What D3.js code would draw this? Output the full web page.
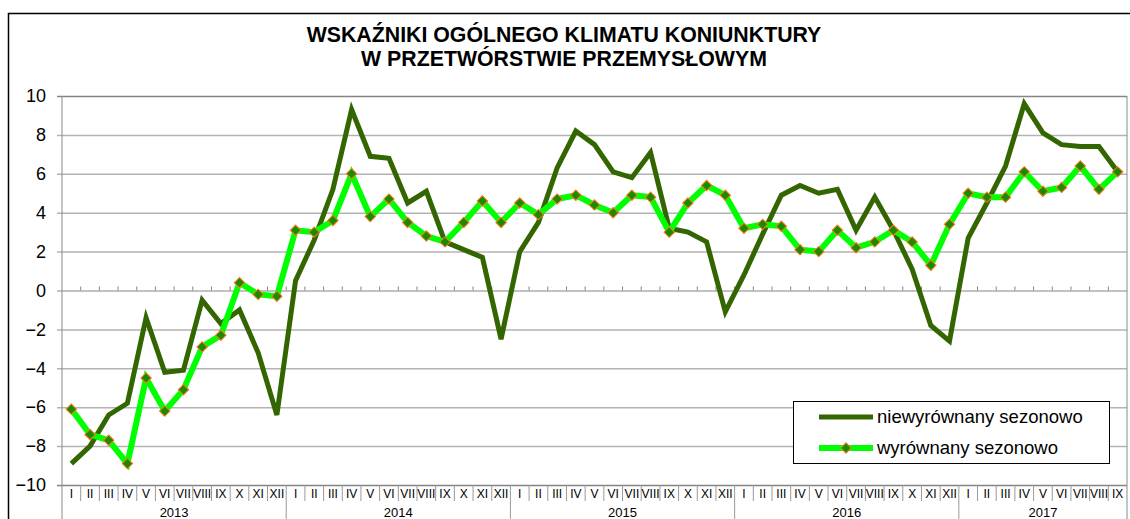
<!DOCTYPE html>
<html>
<head>
<meta charset="utf-8">
<script src="https://cdn.jsdelivr.net/npm/d3@7"></script>
<style>
  body { margin: 0; background: #fff; }
  text { font-family: "Liberation Sans", Arial, sans-serif; }
</style>
</head>
<body>
<div id="chart"></div>
<script>
// Chart data
var months = ["I", "II", "III", "IV", "V", "VI", "VII", "VIII", "IX", "X", "XI", "XII"];
var years = ["2013", "2014", "2015", "2016", "2017"];
var yTicks = [-10, -8, -6, -4, -2, 0, 2, 4, 6, 8, 10];
var seriesNames = ["niewyrównany sezonowo", "wyrównany sezonowo"];

// niewyrównany sezonowo (2013 I - 2017 IX)
var unadjusted = [
    -8.9, -8.0, -6.4, -5.8, -1.4, -4.2, -4.1, -0.5, -1.7, -1.0, -3.2, -6.4,
    0.5, 2.6, 5.2, 9.3, 6.9, 6.8, 4.5, 5.1, 2.5, 2.1, 1.7, -2.5,
    2.0, 3.5, 6.3, 8.2, 7.5, 6.1, 5.8, 7.1, 3.2, 3.0, 2.5, -1.1,
    0.8, 2.9, 4.9, 5.4, 5.0, 5.2, 3.1, 4.8, 3.1, 1.1, -1.8, -2.6,
    2.7, 4.5, 6.4, 9.6, 8.1, 7.5, 7.4, 7.4, 6.1
];

// wyrównany sezonowo
var adjusted = [
    -6.1, -7.4, -7.7, -8.9, -4.5, -6.2, -5.1, -2.9, -2.3, 0.4, -0.2, -0.3,
    3.1, 3.0, 3.6, 6.0, 3.8, 4.7, 3.5, 2.8, 2.5, 3.5, 4.6, 3.5,
    4.5, 3.9, 4.7, 4.9, 4.4, 4.0, 4.9, 4.8, 3.0, 4.5, 5.4, 4.9,
    3.2, 3.4, 3.3, 2.1, 2.0, 3.1, 2.2, 2.5, 3.1, 2.5, 1.3, 3.4,
    5.0, 4.8, 4.8, 6.1, 5.1, 5.3, 6.4, 5.2, 6.1
];

var svgWidth = 1130;
var svgHeight = 519;

var plot = { left: 62, right: 1127, top: 96, bottom: 485 };

var svg = d3.select("#chart")
    .append("svg")
    .attr("width", svgWidth)
    .attr("height", svgHeight);

// outer frame
svg.append("rect")
    .attr("x", 8.5).attr("y", 13.5)
    .attr("width", 1200).attr("height", 600)
    .attr("fill", "#fff")
    .attr("stroke", "#000")
    .attr("stroke-width", 1.5);

// title
var title = svg.append("text")
    .attr("text-anchor", "middle")
    .attr("font-size", "21.3px")
    .attr("font-weight", "bold")
    .attr("fill", "#000");
title.append("tspan").attr("x", 564).attr("y", 42).text("WSKAŹNIKI OGÓLNEGO KLIMATU KONIUNKTURY");
title.append("tspan").attr("x", 564).attr("y", 66).text("W PRZETWÓRSTWIE PRZEMYSŁOWYM");

// scales
var xScale = d3.scaleBand()
    .domain(d3.range(unadjusted.length))
    .range([plot.left, plot.right]);

var yScale = d3.scaleLinear()
    .domain([-10, 10])
    .range([plot.bottom, plot.top]);

var xMid = i => xScale(i) + xScale.bandwidth() / 2;

// y axis + gridlines
var yAxis = svg.append("g")
    .attr("transform", `translate(${plot.left}, 0)`)
    .call(d3.axisLeft(yScale)
        .tickValues(yTicks)
        .tickSize(-(plot.right - plot.left))
        .tickSizeOuter(0)
        .tickPadding(16)
        .tickFormat(d3.format("d")));

yAxis.select(".domain").remove();
yAxis.selectAll("line")
    .attr("x1", -5)
    .attr("stroke", d => (d === 10 || d === -10 || d === 0) ? "#858585" : "#b3b3b3")
    .attr("stroke-width", d => (d === 0) ? 1.2 : 1.5);
yAxis.selectAll("text")
    .attr("font-size", "18px")
    .attr("fill", "#000")
    .attr("font-family", "Liberation Sans, Arial, sans-serif");

// small ticks on the zero line
svg.append("g")
    .selectAll("line")
    .data(d3.range(1, unadjusted.length))
    .enter()
    .append("line")
    .attr("x1", d => xScale(d)).attr("x2", d => xScale(d))
    .attr("y1", yScale(0) - 4).attr("y2", yScale(0))
    .attr("stroke", "#858585");

// category label rows
var sepGroup = svg.append("g").attr("stroke", "#9a9a9a").attr("stroke-width", 1);
sepGroup.selectAll("line.month")
    .data(d3.range(1, unadjusted.length).filter(d => d % 12 !== 0))
    .enter()
    .append("line")
    .attr("x1", d => xScale(d)).attr("x2", d => xScale(d))
    .attr("y1", plot.bottom).attr("y2", 501);

sepGroup.selectAll("line.year")
    .data(d3.range(12, unadjusted.length, 12))
    .enter()
    .append("line")
    .attr("x1", d => xScale(d)).attr("x2", d => xScale(d))
    .attr("y1", plot.bottom).attr("y2", svgHeight);

// plot side borders
sepGroup.selectAll("line.side")
    .data([plot.left, plot.right])
    .enter()
    .append("line")
    .attr("x1", d => d).attr("x2", d => d)
    .attr("y1", plot.top).attr("y2", svgHeight)
    .attr("stroke", "#8a8a8a");

var xAxis = svg.append("g")
    .attr("transform", `translate(0, ${plot.bottom})`)
    .call(d3.axisBottom(xScale)
        .tickSize(0)
        .tickPadding(4)
        .tickFormat(i => months[i % 12]));
xAxis.select(".domain").remove();
xAxis.selectAll("text")
    .attr("font-size", "12px")
    .attr("fill", "#000")
    .attr("font-family", "Liberation Sans, Arial, sans-serif");

svg.append("g")
    .selectAll("text")
    .data(years)
    .enter()
    .append("text")
    .attr("x", (d, i) => {
        var first = i * 12;
        var last = Math.min(first + 11, unadjusted.length - 1);
        return (xScale(first) + xScale(last) + xScale.bandwidth()) / 2;
    })
    .attr("y", 517)
    .attr("text-anchor", "middle")
    .attr("font-size", "13px")
    .text(d => d);

// lines
var line = d3.line()
    .x((d, i) => xMid(i))
    .y(d => yScale(d));

svg.append("path")
    .datum(unadjusted)
    .attr("fill", "none")
    .attr("stroke", "#336600")
    .attr("stroke-width", 5)
    .attr("d", line);

svg.append("path")
    .datum(adjusted)
    .attr("fill", "none")
    .attr("stroke", "#00ff00")
    .attr("stroke-width", 6)
    .attr("d", line);

var diamond = d3.symbol().type(d3.symbolSquare).size(55);

svg.append("g")
    .selectAll("path")
    .data(adjusted)
    .enter()
    .append("path")
    .attr("d", diamond)
    .attr("transform", (d, i) => `translate(${xMid(i)}, ${yScale(d)}) rotate(45)`)
    .attr("fill", "#1a8a00")
    .attr("stroke", "#ff7a1a")
    .attr("stroke-width", 1);

// legend
var legend = svg.append("g");
legend.append("rect")
    .attr("x", 793.5).attr("y", 401.5)
    .attr("width", 316).attr("height", 62)
    .attr("fill", "#fff")
    .attr("stroke", "#000")
    .attr("stroke-width", 1);

var legendY = [417, 448];
legend.append("line")
    .attr("x1", 819).attr("x2", 873)
    .attr("y1", legendY[0]).attr("y2", legendY[0])
    .attr("stroke", "#336600").attr("stroke-width", 5);
legend.append("line")
    .attr("x1", 819).attr("x2", 873)
    .attr("y1", legendY[1]).attr("y2", legendY[1])
    .attr("stroke", "#00ff00").attr("stroke-width", 6);
legend.append("path")
    .attr("d", diamond)
    .attr("transform", `translate(846, ${legendY[1]}) rotate(45)`)
    .attr("fill", "#1a8a00")
    .attr("stroke", "#ff7a1a")
    .attr("stroke-width", 1);

legend.selectAll("text.lbl")
    .data(seriesNames)
    .enter()
    .append("text")
    .attr("x", 877)
    .attr("y", (d, i) => legendY[i] + 6)
    .attr("font-size", "18.5px")
    .attr("fill", "#000")
    .text(d => d);
</script>
</body>
</html>
